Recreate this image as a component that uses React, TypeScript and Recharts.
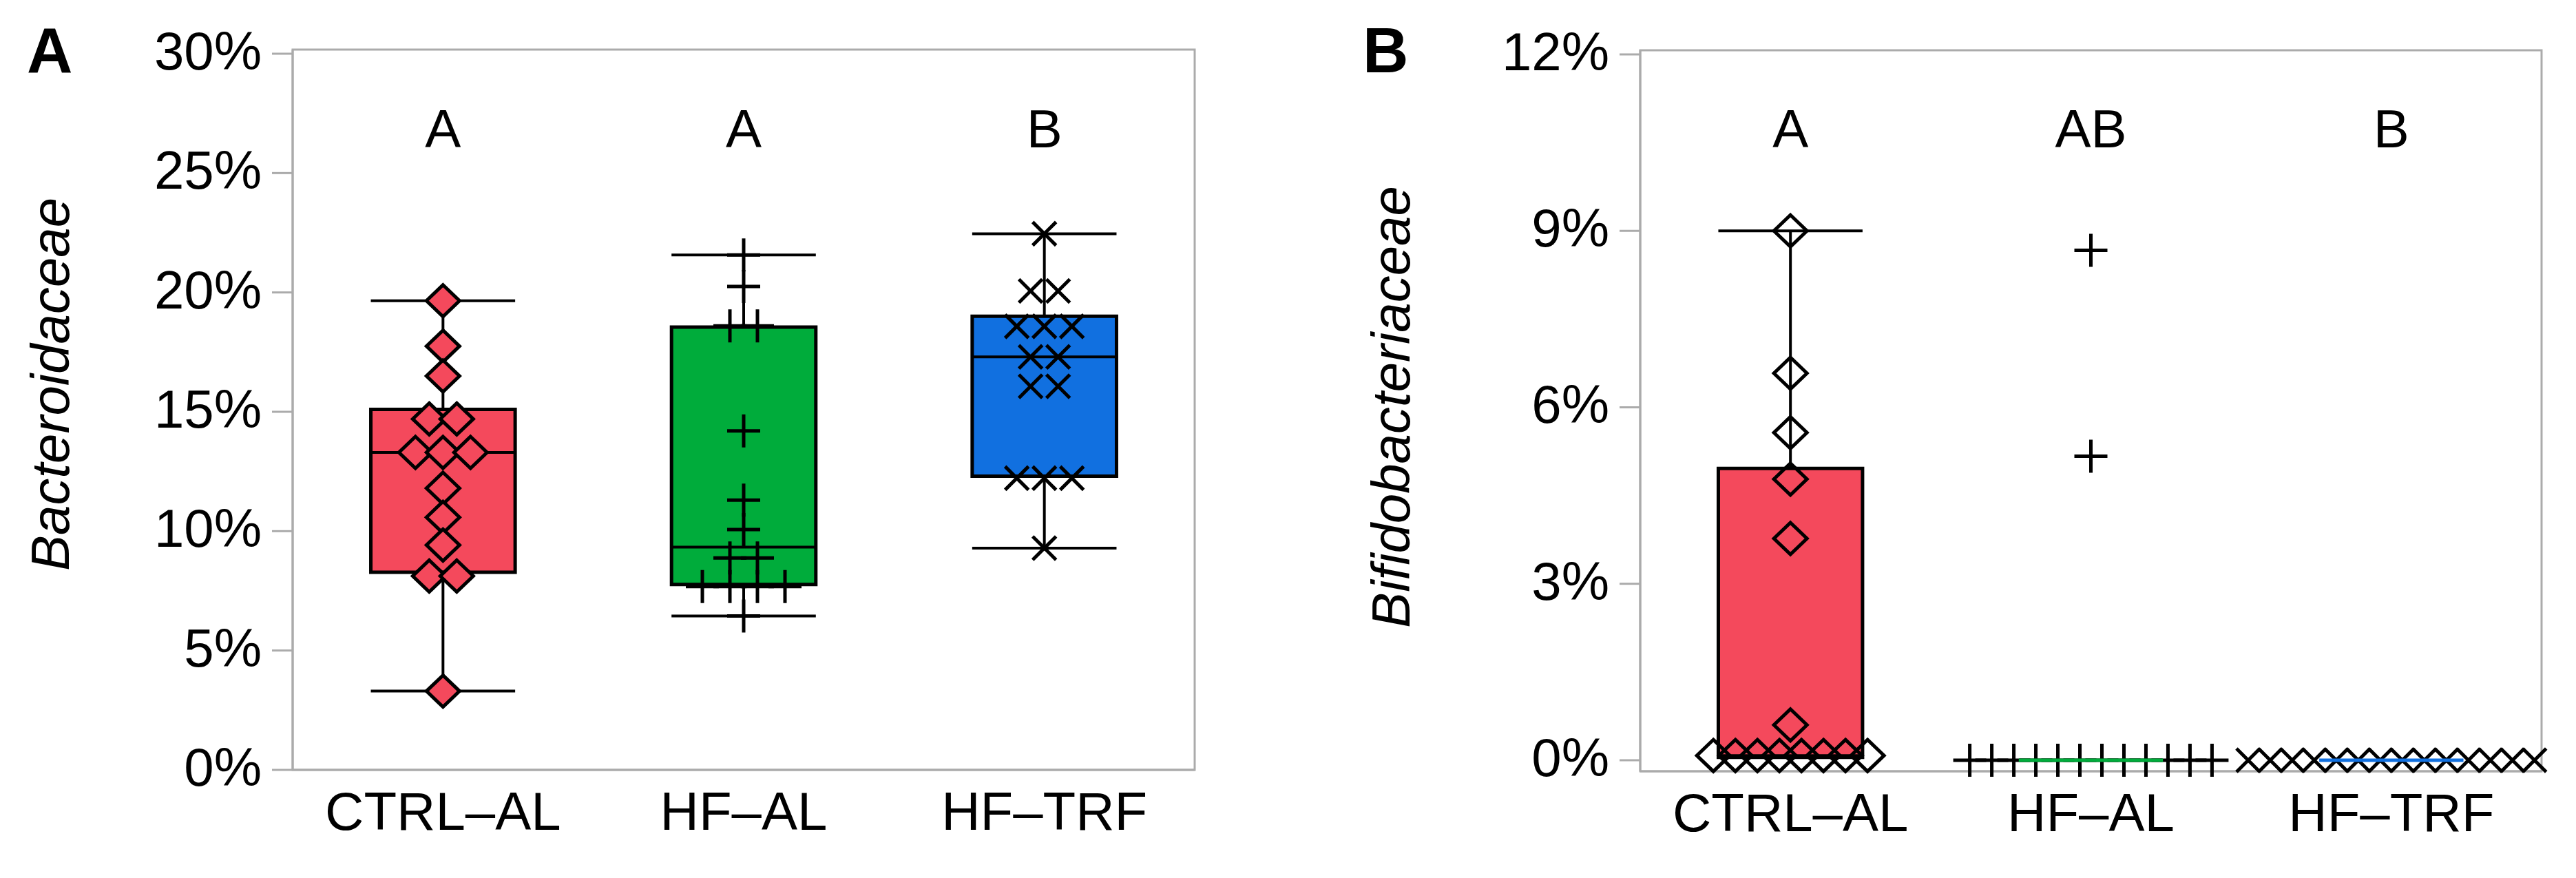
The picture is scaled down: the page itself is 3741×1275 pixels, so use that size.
import React from 'react';
import { ComposedChart, XAxis, YAxis, Scatter, ReferenceArea, ReferenceLine } from 'recharts';

// ---------- data ----------
const GROUPS = ['CTRL–AL', 'HF–AL', 'HF–TRF'];
const LETTERS_A = ['A', 'A', 'B'];
const LETTERS_B = ['A', 'AB', 'B'];
const TICKS_A = [0, 5, 10, 15, 20, 25, 30];
const TICKS_B = [0, 3, 6, 9, 12];

// Bacteroidaceae relative abundance (%)
const BACT_CTRL_AL = [19.65, 17.75, 16.5, 14.7, 14.7, 13.3, 13.3, 13.3, 11.8, 10.58, 9.42, 8.12, 8.12, 3.3];
const BACT_HF_AL = [21.57, 20.25, 18.6, 18.6, 14.2, 11.3, 10.07, 8.88, 8.88, 7.68, 7.68, 7.68, 7.68, 6.45];
const BACT_HF_TRF = [22.46, 20.06, 20.06, 18.58, 18.58, 18.58, 17.3, 17.3, 16.07, 16.07, 12.22, 12.22, 12.22, 9.29];
// five-number summaries [min, q1, median, q3, max]
const BACT_BOX_CTRL_AL = [3.3, 8.28, 13.3, 15.1, 19.65];
const BACT_BOX_HF_AL = [6.45, 7.77, 9.33, 18.55, 21.57];
const BACT_BOX_HF_TRF = [9.29, 12.3, 17.3, 19.0, 22.46];

// Bifidobacteriaceae relative abundance (%)
const BIFI_CTRL_AL = [9.0, 6.58, 5.57, 4.78, 3.77, 0.6, 0.08, 0.08, 0.08, 0.08, 0.08, 0.08, 0.08, 0.08];
const BIFI_HF_AL = [8.67, 5.17, 0, 0, 0, 0, 0, 0, 0, 0, 0, 0, 0, 0];
const BIFI_HF_TRF = [0, 0, 0, 0, 0, 0, 0, 0, 0, 0, 0, 0, 0, 0];
const BIFI_BOX_CTRL_AL = [0.05, 0.05, 0.08, 4.96, 9.0];
const BIFI_BOX_HF_AL = [0, 0, 0, 0, 0];
const BIFI_BOX_HF_TRF = [0, 0, 0, 0, 0];

// ---------- styling ----------
const FONT = "'Liberation Sans', Arial, Helvetica, sans-serif";
const GREY = '#ABABAB';
const FILLS = ['#F4495C', '#00AC3B', '#1170E0'];
const BOX_W = 0.48;
const CENTERS = [0.5, 1.5, 2.5];
const FONT_SIZE = 78;

// spread repeated values side by side around the group centre
function swarm(values: number[], center: number, step: number) {
  const counts = new Map<number, number>();
  values.forEach((v) => counts.set(v, (counts.get(v) || 0) + 1));
  const seen = new Map<number, number>();
  return values.map((v) => {
    const n = counts.get(v) as number;
    const i = seen.get(v) || 0;
    seen.set(v, i + 1);
    return { x: center + (i - (n - 1) / 2) * step, y: v };
  });
}

const makeDiamond = (fill: string) => (p: any) => {
  const { cx, cy } = p;
  if (cx == null || cy == null) return <g />;
  return (
    <polygon
      points={`${cx},${cy - 23} ${cx + 24},${cy} ${cx},${cy + 23} ${cx - 24},${cy}`}
      fill={fill}
      stroke="#000"
      strokeWidth={5}
      strokeLinejoin="miter"
    />
  );
};

const PlusMark = (p: any) => {
  const { cx, cy } = p;
  if (cx == null || cy == null) return <g />;
  return <path d={`M${cx - 24},${cy}H${cx + 24}M${cx},${cy - 24}V${cy + 24}`} stroke="#000" strokeWidth={5} fill="none" />;
};

const CrossMark = (p: any) => {
  const { cx, cy } = p;
  if (cx == null || cy == null) return <g />;
  return (
    <path
      d={`M${cx - 17},${cy - 17}L${cx + 17},${cy + 17}M${cx - 17},${cy + 17}L${cx + 17},${cy - 17}`}
      stroke="#000"
      strokeWidth={5}
      fill="none"
    />
  );
};

const LetterMark = (p: any) => {
  const { cx, cy, payload } = p;
  if (cx == null || cy == null) return <g />;
  return (
    <text x={cx} y={cy} textAnchor="middle" fontFamily={FONT} fontSize={FONT_SIZE} fill="#000">
      {payload.label}
    </text>
  );
};

const YTick = (p: any) => {
  const { x, y, payload } = p;
  return (
    <text x={x} y={y + 23} textAnchor="end" fontFamily={FONT} fontSize={FONT_SIZE} fill="#000">
      {`${payload.value}%`}
    </text>
  );
};

const XTick = (p: any) => {
  const { x, y, payload } = p;
  return (
    <text x={x} y={y + 87} textAnchor="middle" fontFamily={FONT} fontSize={FONT_SIZE} fill="#000">
      {GROUPS[Math.floor(payload.value)]}
    </text>
  );
};

type PanelProps = {
  left: number;
  width: number;
  margin: { top: number; right: number; bottom: number; left: number };
  domain: [number, number];
  ticks: number[];
  series: number[][];
  boxes: number[][];
  letters: string[];
  letterY: number;
  step: number;
  diamondFill: string;
};

function Panel(props: PanelProps) {
  const { left, width, margin, domain, ticks, series, boxes, letters, letterY, step, diamondFill } = props;
  const shapes = [makeDiamond(diamondFill), PlusMark, CrossMark];
  const letterData = letters.map((t, i) => ({ x: CENTERS[i], y: letterY, label: t }));

  const boxEls: any[] = [];
  const lineEls: any[] = [];
  const flatEls: any[] = [];
  boxes.forEach((b, i) => {
    const [mn, q1, med, q3, mx] = b;
    const c = CENTERS[i];
    const xl = c - BOX_W / 2;
    const xr = c + BOX_W / 2;
    if (q1 === q3) {
      flatEls.push(
        <ReferenceLine
          key={`flat${i}`}
          segment={[{ x: xl, y: med }, { x: xr, y: med }]}
          stroke={FILLS[i]}
          strokeWidth={5}
          ifOverflow="visible"
          zIndex={700}
        />
      );
      return;
    }
    boxEls.push(
      <ReferenceArea
        key={`box${i}`}
        x1={xl}
        x2={xr}
        y1={q1}
        y2={q3}
        fill={FILLS[i]}
        fillOpacity={1}
        stroke="#000"
        strokeWidth={5}
        ifOverflow="visible"
        zIndex={20}
      />
    );
    const segs: { x: number; y: number }[][] = [
      [{ x: c, y: q3 }, { x: c, y: mx }],
      [{ x: c, y: mn }, { x: c, y: q1 }],
      [{ x: xl, y: mx }, { x: xr, y: mx }],
      [{ x: xl, y: mn }, { x: xr, y: mn }],
    ];
    segs.forEach((s, j) => {
      lineEls.push(
        <ReferenceLine key={`w${i}-${j}`} segment={s} stroke="#000" strokeWidth={4} ifOverflow="visible" zIndex={30} />
      );
    });
    lineEls.push(
      <ReferenceLine
        key={`med${i}`}
        segment={[{ x: xl, y: med }, { x: xr, y: med }]}
        stroke="#000"
        strokeWidth={4}
        ifOverflow="visible"
        zIndex={40}
      />
    );
  });

  return (
    <div style={{ position: 'absolute', left, top: 0, width, height: 1275 }}>
      <ComposedChart width={width} height={1275} margin={margin}>
        <ReferenceArea
          x1={0}
          x2={3}
          y1={domain[0]}
          y2={domain[1]}
          fill="none"
          fillOpacity={0}
          stroke={GREY}
          strokeWidth={3}
          ifOverflow="visible"
          zIndex={10}
        />
        {boxEls}
        {lineEls}
        <XAxis
          type="number"
          dataKey="x"
          domain={[0, 3]}
          ticks={CENTERS}
          interval={0}
          tickSize={0}
          tickMargin={0}
          tickLine={false}
          axisLine={{ stroke: GREY, strokeWidth: 3 }}
          height={110}
          tick={<XTick />}
        />
        <YAxis
          type="number"
          dataKey="y"
          domain={domain}
          ticks={ticks}
          interval={0}
          tickSize={30}
          tickMargin={15}
          tickLine={{ stroke: GREY, strokeWidth: 3 }}
          axisLine={{ stroke: GREY, strokeWidth: 3 }}
          width={300}
          tick={<YTick />}
        />
        {series.map((vals, i) => (
          <Scatter
            key={`pts${i}`}
            data={swarm(vals, CENTERS[i], step)}
            shape={shapes[i]}
            isAnimationActive={false}
            zIndex={600}
          />
        ))}
        {flatEls}
        <Scatter data={letterData} shape={LetterMark} isAnimationActive={false} zIndex={800} />
      </ComposedChart>
    </div>
  );
}

export default function App() {
  return (
    <div style={{ position: 'absolute', left: 0, top: 0, width: 3741, height: 1275, background: '#fff', overflow: 'hidden' }}>
      <svg width={3741} height={1275} style={{ position: 'absolute', left: 0, top: 0 }}>
        <text x={39} y={105} fontFamily={FONT} fontWeight="bold" fontSize={92} fill="#000">A</text>
        <text x={1979} y={105} fontFamily={FONT} fontWeight="bold" fontSize={92} fill="#000">B</text>
        <text
          transform="translate(100,558) rotate(-90)"
          textAnchor="middle"
          fontFamily={FONT}
          fontStyle="italic"
          fontSize={FONT_SIZE}
          fill="#000"
        >
          Bacteroidaceae
        </text>
        <text
          transform="translate(2047,591) rotate(-90)"
          textAnchor="middle"
          fontFamily={FONT}
          fontStyle="italic"
          fontSize={FONT_SIZE}
          fill="#000"
        >
          Bifidobacteriaceae
        </text>
      </svg>
      <Panel
        left={0}
        width={1800}
        margin={{ top: 72, right: 65, bottom: 47, left: 125 }}
        domain={[0, 30.173]}
        ticks={TICKS_A}
        series={[BACT_CTRL_AL, BACT_HF_AL, BACT_HF_TRF]}
        boxes={[BACT_BOX_CTRL_AL, BACT_BOX_HF_AL, BACT_BOX_HF_TRF]}
        letters={LETTERS_A}
        letterY={26.077}
        step={0.0916}
        diamondFill={FILLS[0]}
      />
      <Panel
        left={1900}
        width={1841}
        margin={{ top: 73, right: 50, bottom: 45, left: 182 }}
        domain={[-0.1873, 12.0702]}
        ticks={TICKS_B}
        series={[BIFI_CTRL_AL, BIFI_HF_AL, BIFI_HF_TRF]}
        boxes={[BIFI_BOX_CTRL_AL, BIFI_BOX_HF_AL, BIFI_BOX_HF_TRF]}
        letters={LETTERS_B}
        letterY={10.419}
        step={0.0733}
        diamondFill="none"
      />
    </div>
  );
}
